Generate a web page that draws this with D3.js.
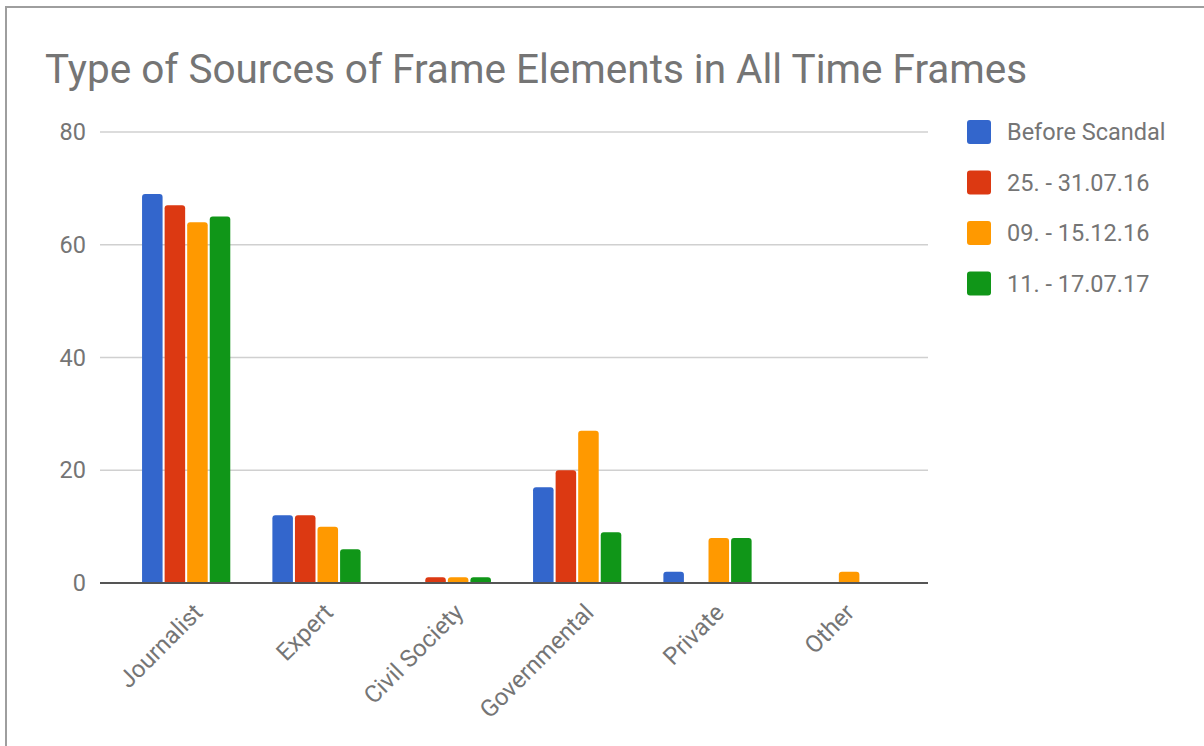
<!DOCTYPE html>
<html>
<head>
<meta charset="utf-8">
<script src="https://cdn.jsdelivr.net/npm/d3@7"></script>
<style>
  body { margin: 0; background: #fff; }
  svg { display: block; font-family: Roboto, "Noto Sans", sans-serif; }
</style>
</head>
<body>
<svg></svg>
<script>
// Width and height for the SVG
const width = 1204,
    height = 746;

const categories = ["Journalist", "Expert", "Civil Society", "Governmental", "Private", "Other"];
const series = ["Before Scandal", "25. - 31.07.16", "09. - 15.12.16", "11. - 17.07.17"];
const colors = ["#3366cc", "#dc3912", "#ff9900", "#109618"];

const beforeScandal = [69, 12, 0, 17, 2, 0];
const july16 = [67, 12, 1, 20, 0, 0];
const dec16 = [64, 10, 1, 27, 8, 2];
const july17 = [65, 6, 1, 9, 8, 0];
const seriesValues = [beforeScandal, july16, dec16, july17];

const yTicks = [0, 20, 40, 60, 80];

const svg = d3.select("svg")
    .attr("width", width)
    .attr("height", height);

// frame (top and left edges only)
svg.append("path")
    .attr("d", `M6,${height} V7 H${width}`)
    .attr("fill", "none")
    .attr("stroke", "#9e9e9e")
    .attr("stroke-width", 2);

// title
svg.append("text")
    .attr("x", 45)
    .attr("y", 83)
    .attr("fill", "#757575")
    .attr("font-size", 40.5)
    .text("Type of Sources of Frame Elements in All Time Frames");

const y = d3.scaleLinear()
    .domain([0, 80])
    .range([583, 132]);

const x0 = d3.scaleBand()
    .domain(categories)
    .range([121, 903])
    .paddingInner(0.323)
    .paddingOuter(0.1615);

const x1 = d3.scaleBand()
    .domain(series)
    .range([0, x0.bandwidth()])
    .paddingInner(0.09);

// gridlines
svg.append("g")
    .selectAll("line")
    .data(yTicks.filter(d => d !== 0))
    .join("line")
    .attr("x1", 100)
    .attr("x2", 928)
    .attr("y1", d => y(d))
    .attr("y2", d => y(d))
    .attr("stroke", "#d0d0d0")
    .attr("stroke-width", 1.5);

// y tick labels
svg.append("g")
    .selectAll("text")
    .data(yTicks)
    .join("text")
    .attr("x", 86)
    .attr("y", d => y(d))
    .attr("dy", "0.35em")
    .attr("text-anchor", "end")
    .attr("fill", "#757575")
    .attr("font-size", 23.5)
    .text(d => d);

// bars with rounded tops
function barPath(x, w, top, bottom) {
    const r = Math.min(3, (bottom - top), w / 2);
    return `M${x},${bottom} V${top + r} Q${x},${top} ${x + r},${top} H${x + w - r} Q${x + w},${top} ${x + w},${top + r} V${bottom} Z`;
}

const barData = [];
categories.forEach((c, ci) => {
    series.forEach((s, si) => {
        barData.push({ cat: c, ser: s, value: seriesValues[si][ci], color: colors[si] });
    });
});

svg.append("g")
    .selectAll("path")
    .data(barData.filter(d => d.value > 0))
    .join("path")
    .attr("d", d => barPath(x0(d.cat) + x1(d.ser), x1.bandwidth(), y(d.value), y(0)))
    .attr("fill", d => d.color);

// baseline
svg.append("line")
    .attr("x1", 100)
    .attr("x2", 928)
    .attr("y1", y(0))
    .attr("y2", y(0))
    .attr("stroke", "#555")
    .attr("stroke-width", 2);

// x labels, rotated
svg.append("g")
    .selectAll("text")
    .data(categories)
    .join("text")
    .attr("transform", d => `translate(${x0(d) + x0.bandwidth() / 2 + 18},${614}) rotate(-45)`)
    .attr("text-anchor", "end")
    .attr("fill", "#757575")
    .attr("font-size", 24)
    .text(d => d);

// legend
const legend = svg.append("g")
    .selectAll("g")
    .data(series)
    .join("g")
    .attr("transform", (d, i) => `translate(967,${132 + i * 50.5})`);

legend.append("rect")
    .attr("x", 0)
    .attr("y", -12)
    .attr("width", 24)
    .attr("height", 24)
    .attr("rx", 3)
    .attr("fill", (d, i) => colors[i]);

legend.append("text")
    .attr("x", 40)
    .attr("y", 0)
    .attr("dy", "0.35em")
    .attr("fill", "#757575")
    .attr("font-size", 23.5)
    .text(d => d);
</script>
</body>
</html>
